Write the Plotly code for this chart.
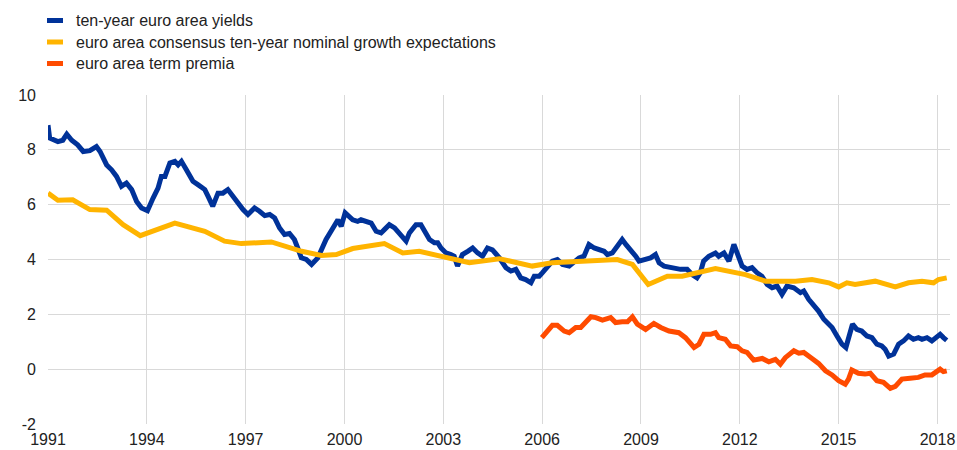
import plotly.graph_objects as go

# ten-year euro area yields
yield_x = [1991.00,1991.05,1991.30,1991.45,1991.57,1991.72,1991.90,1992.07,1992.27,1992.47,1992.58,1992.78,1992.93,
           1993.08,1993.23,1993.38,1993.54,1993.69,1993.84,1994.02,1994.19,1994.34,1994.44,1994.55,1994.70,1994.85,
           1994.95,1995.05,1995.20,1995.40,1995.55,1995.76,1995.86,1996.00,1996.16,1996.31,1996.46,1996.62,1996.77,
           1996.92,1997.07,1997.27,1997.42,1997.58,1997.73,1997.88,1998.03,1998.18,1998.33,1998.48,1998.58,1998.69,
           1998.84,1999.00,1999.19,1999.44,1999.65,1999.80,1999.90,2000.02,2000.25,2000.40,2000.50,2000.66,2000.81,
           2000.96,2001.11,2001.21,2001.36,2001.52,2001.67,2001.87,2001.97,2002.17,2002.32,2002.42,2002.58,2002.73,
           2002.83,2002.93,2003.08,2003.23,2003.33,2003.43,2003.58,2003.74,2003.89,2004.04,2004.19,2004.34,2004.49,
           2004.60,2004.70,2004.90,2005.05,2005.20,2005.35,2005.50,2005.66,2005.76,2005.91,2006.01,2006.16,2006.31,
           2006.46,2006.62,2006.82,2006.97,2007.12,2007.27,2007.42,2007.58,2007.73,2007.88,2007.98,2008.13,2008.28,
           2008.43,2008.54,2008.69,2008.84,2008.94,2009.09,2009.29,2009.44,2009.55,2009.70,2009.90,2010.05,2010.20,
           2010.40,2010.55,2010.70,2010.80,2010.90,2011.06,2011.26,2011.36,2011.52,2011.67,2011.82,2011.92,2012.07,
           2012.22,2012.37,2012.52,2012.67,2012.83,2012.98,2013.13,2013.28,2013.43,2013.64,2013.84,2013.94,2014.09,
           2014.24,2014.39,2014.55,2014.70,2014.80,2014.95,2015.10,2015.22,2015.32,2015.42,2015.55,2015.70,2015.86,
           2016.01,2016.16,2016.31,2016.41,2016.52,2016.67,2016.82,2016.97,2017.12,2017.27,2017.42,2017.53,2017.68,
           2017.83,2017.98,2018.08,2018.18,2018.28]
yield_v = [8.90,8.43,8.30,8.35,8.57,8.35,8.18,7.94,7.97,8.12,7.94,7.45,7.27,
           7.03,6.67,6.79,6.55,6.12,5.88,5.78,6.24,6.60,7.03,7.03,7.52,7.58,
           7.45,7.58,7.27,6.85,6.73,6.55,6.30,5.94,6.42,6.42,6.55,6.30,6.00,
           5.82,5.64,5.88,5.76,5.60,5.64,5.52,5.15,4.91,4.95,4.73,4.42,4.06,
           4.00,3.82,4.06,4.73,5.15,5.45,5.21,5.70,5.45,5.39,5.45,5.39,5.33,
           5.03,4.97,5.09,5.27,5.15,4.97,4.67,4.97,5.27,5.27,5.09,4.73,4.61,
           4.61,4.42,4.24,4.18,4.12,3.76,4.18,4.30,4.42,4.24,4.12,4.42,4.35,
           4.20,4.06,3.70,3.58,3.64,3.33,3.27,3.15,3.39,3.39,3.52,3.76,3.94,
           4.00,3.82,3.76,3.94,4.06,4.12,4.55,4.42,4.36,4.30,4.18,4.24,4.48,
           4.73,4.55,4.36,4.12,3.94,4.00,4.06,4.18,3.88,3.76,3.70,3.64,3.64,
           3.64,3.45,3.33,3.52,3.94,4.12,4.24,4.12,4.24,3.94,4.55,4.24,3.76,
           3.64,3.70,3.52,3.39,3.09,2.97,3.03,2.73,3.03,2.97,2.79,2.85,2.55,
           2.36,2.12,1.82,1.64,1.52,1.21,0.91,0.79,1.27,1.64,1.45,1.39,1.21,
           1.15,0.91,0.85,0.73,0.48,0.55,0.91,1.03,1.21,1.09,1.15,1.09,1.15,
           1.03,1.15,1.27,1.15,1.05]

# euro area consensus ten-year nominal growth expectations
growth_x = [1991.00,1991.30,1991.75,1992.27,1992.78,1993.28,1993.80,1994.85,1995.76,1996.36,1996.87,1997.78,
            1998.70,1999.30,1999.75,2000.25,2001.21,2001.77,2002.27,2003.79,2004.70,2005.70,2006.30,2007.42,
            2008.28,2008.74,2009.22,2009.80,2010.25,2011.26,2012.17,2012.78,2013.69,2014.19,2014.70,2015.00,
            2015.25,2015.50,2016.11,2016.72,2017.12,2017.53,2017.88,2018.03,2018.28]
growth_v = [6.42,6.16,6.18,5.82,5.80,5.27,4.87,5.33,5.03,4.67,4.58,4.64,
            4.30,4.15,4.18,4.40,4.58,4.24,4.30,3.88,4.03,3.76,3.88,3.94,
            4.00,3.82,3.09,3.39,3.39,3.67,3.45,3.21,3.21,3.27,3.15,3.00,
            3.15,3.09,3.21,3.00,3.15,3.21,3.15,3.27,3.33]

# euro area term premia
premia_x = [2005.99,2006.16,2006.31,2006.46,2006.67,2006.82,2007.02,2007.17,2007.32,2007.48,2007.63,2007.83,
            2008.08,2008.23,2008.43,2008.59,2008.74,2008.89,2009.14,2009.39,2009.60,2009.85,2010.15,2010.35,
            2010.61,2010.76,2010.91,2011.11,2011.26,2011.36,2011.56,2011.72,2011.92,2012.07,2012.22,2012.42,
            2012.68,2012.88,2013.08,2013.23,2013.38,2013.64,2013.79,2013.94,2014.19,2014.39,2014.60,2014.80,
            2015.00,2015.20,2015.30,2015.40,2015.60,2015.80,2015.96,2016.16,2016.36,2016.57,2016.72,2016.92,
            2017.17,2017.42,2017.62,2017.83,2018.08,2018.18,2018.28]
premia_v = [1.15,1.39,1.60,1.60,1.39,1.33,1.52,1.52,1.70,1.91,1.88,1.79,
            1.88,1.70,1.73,1.73,1.91,1.64,1.45,1.67,1.52,1.39,1.33,1.15,
            0.79,0.91,1.27,1.27,1.33,1.15,1.09,0.85,0.82,0.67,0.61,0.33,
            0.39,0.27,0.36,0.18,0.42,0.67,0.58,0.61,0.39,0.21,-0.06,-0.21,
            -0.42,-0.55,-0.36,-0.03,-0.15,-0.18,-0.15,-0.42,-0.48,-0.70,-0.63,-0.36,
            -0.33,-0.30,-0.21,-0.21,0.00,-0.09,-0.06]

x_ticks = [1991, 1994, 1997, 2000, 2003, 2006, 2009, 2012, 2015, 2018]
y_ticks = [-2, 0, 2, 4, 6, 8, 10]

names = ["ten-year euro area yields",
         "euro area consensus ten-year nominal growth expectations",
         "euro area term premia"]
colors = ["#003299", "#FFB400", "#FF4B00"]

W, H = 957, 450
ML, MR, MT, MB = 48, 7, 95, 26
PW, PH = W - ML - MR, H - MT - MB

fig = go.Figure()
for i, (xs, ys) in enumerate([(yield_x, yield_v), (growth_x, growth_v), (premia_x, premia_v)]):
    fig.add_trace(go.Scatter(x=xs, y=ys, mode="lines", name=names[i],
                             line=dict(color=colors[i], width=5),
                             showlegend=False))

# legend drawn as keys + text above the plot area (pixel positions -> paper coords)
legend_centers = [20.5, 42, 63.5]
for i, yc in enumerate(legend_centers):
    yp = 1 + (MT - yc) / PH
    fig.add_shape(type="rect", xref="paper", yref="paper",
                  x0=(47 - ML) / PW, x1=(63 - ML) / PW,
                  y0=yp - 2.5 / PH, y1=yp + 2.5 / PH,
                  fillcolor=colors[i], line=dict(width=0))
    fig.add_annotation(xref="paper", yref="paper", x=(74 - ML) / PW, y=yp,
                       xanchor="left", yanchor="middle", showarrow=False,
                       text=names[i], font=dict(size=16, color="#222222"))

fig.update_layout(
    width=W, height=H,
    margin=dict(l=ML, r=MR, t=MT, b=MB),
    plot_bgcolor="white", paper_bgcolor="white",
    font=dict(family="Liberation Sans, Arial, sans-serif", size=16, color="#222222"),
    showlegend=False,
    xaxis=dict(range=[1991, 2018.38], tickvals=x_ticks, ticktext=[str(t) for t in x_ticks],
               showgrid=True, gridcolor="#d9d9d9", gridwidth=1, zeroline=False,
               showline=False, ticks="", tickfont=dict(size=16), automargin=False,
               ticklabelstandoff=4),
    yaxis=dict(range=[-2, 10], tickvals=y_ticks, ticktext=[str(t) for t in y_ticks],
               showgrid=True, gridcolor="#d9d9d9", gridwidth=1, zeroline=False,
               showline=False, ticks="", tickfont=dict(size=16), automargin=False,
               ticklabelstandoff=11),
)

fig.write_html("out.html", config={"displayModeBar": False},
               post_script="document.body.style.margin='0';document.body.style.padding='0';")
